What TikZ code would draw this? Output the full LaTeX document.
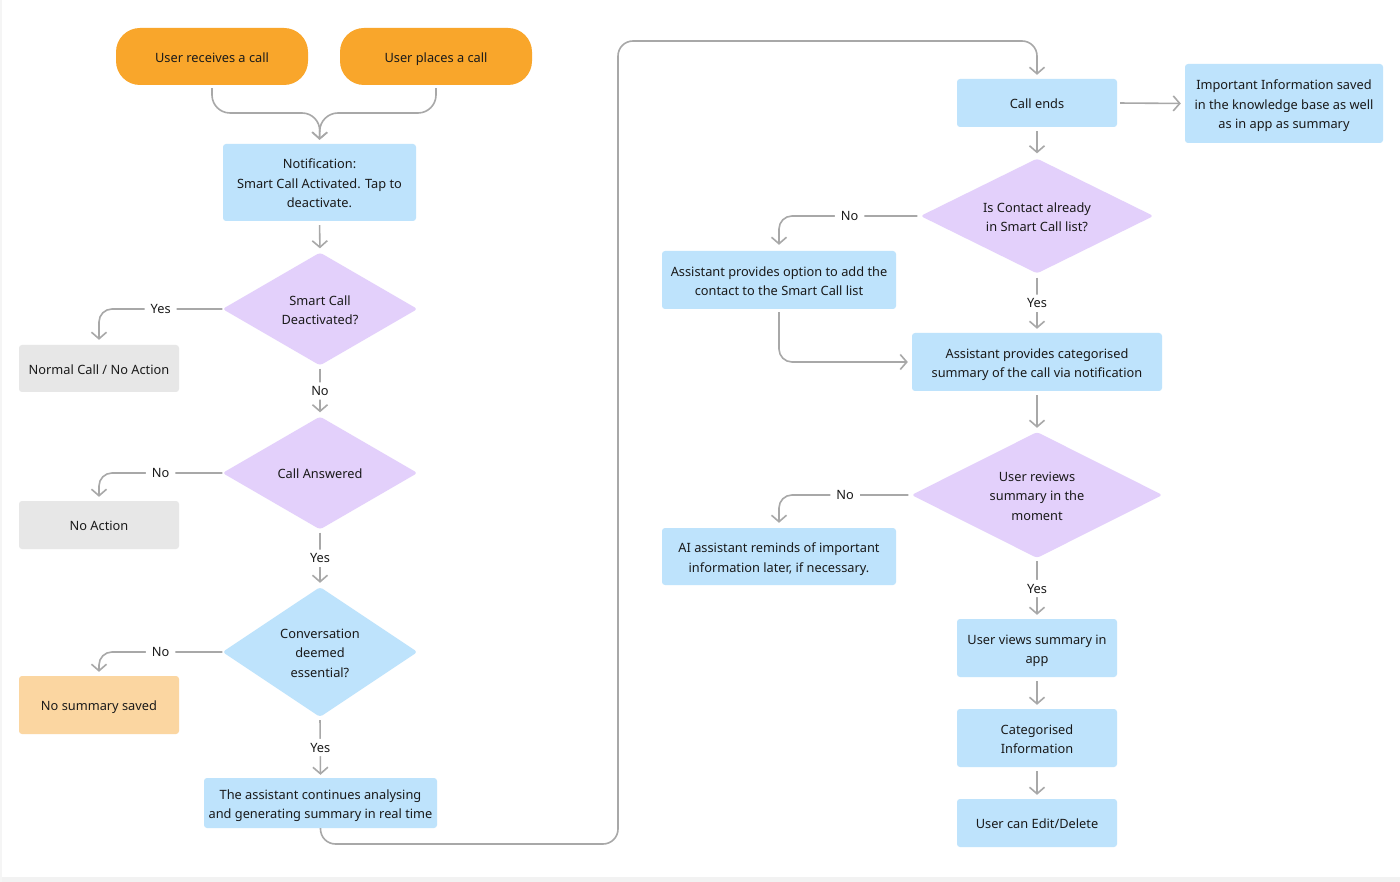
\documentclass[tikz,border=0pt]{standalone}
\usepackage{fontspec}
\setmainfont{Noto Sans}
\usetikzlibrary{shapes.geometric,arrows.meta}
\definecolor{cblue}{HTML}{BEE3FC}
\definecolor{cpurple}{HTML}{E3D0FB}
\definecolor{cgray}{HTML}{E7E7E7}
\definecolor{corange}{HTML}{F9A62B}
\definecolor{clorange}{HTML}{FBD6A1}
\definecolor{cline}{HTML}{A8A8A8}
\definecolor{ctext}{HTML}{1A1A1A}
\newcommand\mystrut{\rule[-5.9pt]{0pt}{23.6pt}}
\newcommand\tstrut{\rule{0pt}{17.7pt}}
\newcommand\bstrut{\rule[-5.9pt]{0pt}{5.9pt}}
\begin{document}
\begin{tikzpicture}[x=1pt,y=-1pt,
  txt/.style={font=\fontsize{12.8}{19.5}\selectfont, text=ctext, align=center, inner sep=0pt,
    execute at begin node=\mystrut, execute at end node=\mystrut},
  ml/.style={execute at begin node={}, execute at end node={}},
  box/.style={txt, fill=#1, rounded corners=3pt},
  pill/.style={txt, fill=corange, rounded corners=24pt, minimum width=192pt, minimum height=57pt},
  dia/.style={txt, diamond, aspect=1.5, fill=#1, rounded corners=3pt},
  conn/.style={draw=cline, line width=1.6pt, rounded corners=13pt, -{Straight Barb[length=6.5pt,width=15pt]}},
  lbl/.style={font=\fontsize{12.8}{19.5}\selectfont, text=ctext, fill=white, inner xsep=6pt, inner ysep=4pt}
]
\useasboundingbox (0,0) rectangle (1400,882);
\fill[white] (0,0) rectangle (1400,882);
\fill[black!5] (0,877) rectangle (1400,882);
\fill[black!4] (0,0) rectangle (1.5,882);

% left column
\node[pill] (r1) at (212,56.5) {User receives a call};
\node[pill] (r2) at (436,56.5) {User places a call};
\node[box=cblue, ml, minimum width=193pt, minimum height=77pt] (n1) at (319.5,182.5) {\tstrut Notification:\\Smart Call Activated. Tap to\\deactivate.\bstrut};
\node[dia=cpurple, ml, minimum width=195pt, minimum height=113pt] (d1) at (320,309) {\tstrut Smart Call\\Deactivated?\bstrut};
\node[box=cgray, minimum width=160pt, minimum height=47pt] (g1) at (99,368.5) {Normal Call / No Action};
\node[dia=cpurple, minimum width=195pt, minimum height=113pt] (d2) at (320,473) {Call Answered};
\node[box=cgray, minimum width=160pt, minimum height=48pt] (g2) at (99,525) {No Action};
\node[dia=cblue, ml, minimum width=195pt, minimum height=130pt] (d3) at (320,652) {\tstrut Conversation\\deemed\\essential?\bstrut};
\node[box=clorange, minimum width=160pt, minimum height=58pt] (o1) at (99,705) {No summary saved};
\node[box=cblue, ml, minimum width=233pt, minimum height=50pt] (a1) at (320.5,803) {\tstrut The assistant continues analysing\\and generating summary in real time\bstrut};

% right column
\node[box=cblue, minimum width=160pt, minimum height=48pt] (ce) at (1037,103) {Call ends};
\node[box=cblue, ml, minimum width=198pt, minimum height=79pt] (ii) at (1284,103.5) {\tstrut Important Information saved\\in the knowledge base as well\\as in app as summary\bstrut};
\node[dia=cpurple, ml, minimum width=233pt, minimum height=112pt] (d4) at (1037,216) {\tstrut Is Contact already\\in Smart Call list?\bstrut};
\node[box=cblue, ml, minimum width=234pt, minimum height=58pt] (opt) at (779,280) {\tstrut Assistant provides option to add the\\contact to the Smart Call list\bstrut};
\node[box=cblue, ml, minimum width=250pt, minimum height=58pt] (cat) at (1037,362) {\tstrut Assistant provides categorised\\summary of the call via notification\bstrut};
\node[dia=cpurple, ml, minimum width=251pt, minimum height=126pt] (d5) at (1037,495) {\tstrut User reviews\\summary in the\\moment\bstrut};
\node[box=cblue, ml, minimum width=234pt, minimum height=57pt] (rem) at (779,556.5) {\tstrut AI assistant reminds of important\\information later, if necessary.\bstrut};
\node[box=cblue, ml, minimum width=160pt, minimum height=58pt] (uv) at (1037,648) {\tstrut User views summary in\\app\bstrut};
\node[box=cblue, ml, minimum width=160pt, minimum height=58pt] (ci) at (1037,738) {\tstrut Categorised\\Information\bstrut};
\node[box=cblue, minimum width=160pt, minimum height=48pt] (ued) at (1037,823) {User can Edit/Delete};

\coordinate (m) at (320,113);
\coordinate (l1) at (618,844);
\coordinate (l2) at (1037,41);

% connectors
\draw[conn, rounded corners=18pt, shorten <=3pt, shorten >=4pt] (r1.south) |- (m) -- (n1.north);
\draw[conn, rounded corners=18pt, shorten <=3pt, shorten >=4pt] (r2.south) |- (m) -- (n1.north);
\draw[conn, shorten <=4pt, shorten >=4pt] (n1.south) -- (d1.north);
\draw[conn, shorten >=5pt] (d1.west) -| node[lbl, pos=0.25] {Yes} (g1.north);
\draw[conn, shorten <=3pt, shorten >=4pt] (d1.south) -- node[lbl] {No} (d2.north);
\draw[conn, shorten >=4pt] (d2.west) -| node[lbl, pos=0.25] {No} (g2.north);
\draw[conn, shorten <=3pt, shorten >=4pt] (d2.south) -- node[lbl] {Yes} (d3.north);
\draw[conn, shorten >=4pt] (d3.west) -| node[lbl, pos=0.25] {No} (o1.north);
\draw[conn, shorten <=3pt, shorten >=3pt] (d3.south) -- node[lbl] {Yes} (a1.north);
\draw[conn, rounded corners=15pt, shorten >=4pt] (a1.south) |- (l1) |- (l2) -- (ce.north);
\draw[conn, shorten <=3pt, shorten >=4pt] (ce.east) -- (ii.west);
\draw[conn, shorten <=4pt, shorten >=5pt] (ce.south) -- (d4.north);
\draw[conn, shorten <=3pt, shorten >=6pt] (d4.west) -| node[lbl, pos=0.25] {No} (opt.north);
\draw[conn, shorten <=4pt, shorten >=4pt] (d4.south) -- node[lbl] {Yes} (cat.north);
\draw[conn, shorten <=3pt, shorten >=4pt] (opt.south) |- (cat.west);
\draw[conn, shorten <=4pt, shorten >=4pt] (cat.south) -- (d5.north);
\draw[conn, shorten <=3pt, shorten >=5pt] (d5.west) -| node[lbl, pos=0.25] {No} (rem.north);
\draw[conn, shorten <=3pt, shorten >=4pt] (d5.south) -- node[lbl] {Yes} (uv.north);
\draw[conn, shorten <=4pt, shorten >=4pt] (uv.south) -- (ci.north);
\draw[conn, shorten <=4pt, shorten >=4pt] (ci.south) -- (ued.north);
\end{tikzpicture}
\end{document}
